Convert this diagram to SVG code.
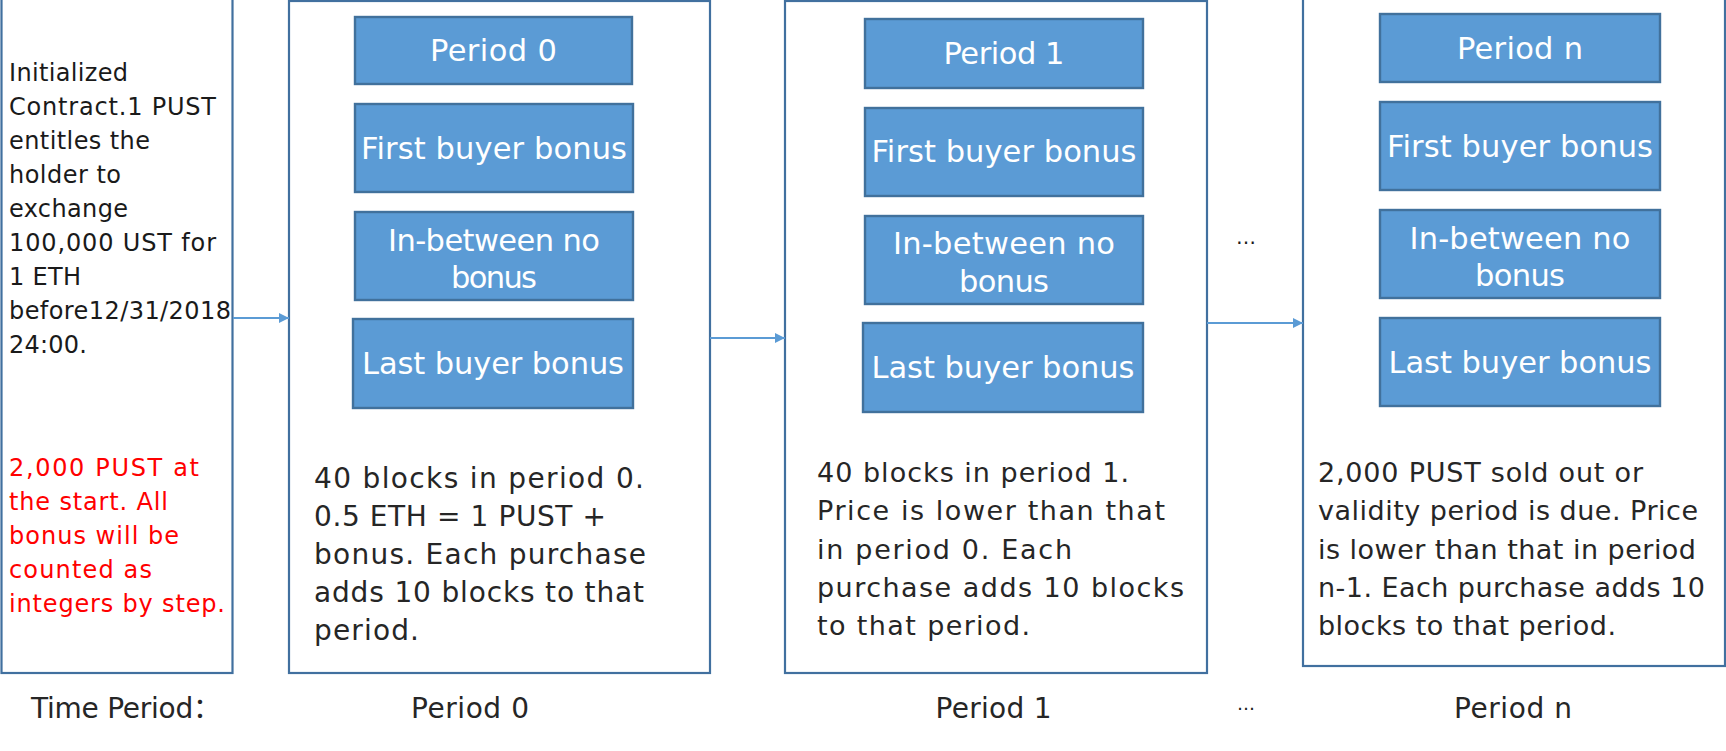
<svg xmlns="http://www.w3.org/2000/svg" width="1726" height="751" viewBox="0 0 1726 751">
<style>
.frame{fill:#ffffff;stroke:#41709F;stroke-width:2.2}
.blk{fill:#5B9BD5;stroke:#41719C;stroke-width:2.4}
.bt{font-family:"DejaVu Sans","Noto Sans",sans-serif;font-size:30.5px;fill:#ffffff;text-anchor:middle}
.lt{font-family:"DejaVu Sans","Noto Sans",sans-serif;font-size:24px;fill:#1a1a1a}
.red{fill:#ff0000}
.d0{font-family:"DejaVu Sans","Noto Sans",sans-serif;font-size:28px;fill:#262626}
.d1{font-family:"DejaVu Sans","Noto Sans",sans-serif;font-size:27px;fill:#262626}
.lab{font-family:"DejaVu Sans","Noto Sans","Noto Sans CJK SC",sans-serif;font-size:28px;fill:#262626}
.dots{font-family:"DejaVu Sans",sans-serif;fill:#1a1a1a;text-anchor:middle}
.conn{stroke:#5B9BD5;stroke-width:2;fill:none}
</style>
<defs>
<marker id="ah" markerUnits="userSpaceOnUse" markerWidth="11" markerHeight="10" refX="10" refY="5" orient="auto">
<path d="M0,0 L10,5 L0,10 z" fill="#5B9BD5"/>
</marker>
</defs>
<rect width="1726" height="751" fill="#ffffff"/>

<g id="init">
<rect class="frame" x="1.5" y="-3" width="231" height="676"/>
<text class="lt">
<tspan x="9" y="81" textLength="119">Initialized</tspan>
<tspan x="9" y="115" textLength="207">Contract.1 PUST</tspan>
<tspan x="9" y="149" textLength="141">entitles the</tspan>
<tspan x="9" y="183" textLength="112">holder to</tspan>
<tspan x="9" y="217" textLength="119">exchange</tspan>
<tspan x="9" y="251" textLength="207">100,000 UST for</tspan>
<tspan x="9" y="285" textLength="72">1 ETH</tspan>
<tspan x="9" y="319" textLength="222">before12/31/2018</tspan>
<tspan x="9" y="353" textLength="78">24:00.</tspan>
</text>
<text class="lt red">
<tspan x="9" y="476" textLength="190">2,000 PUST at</tspan>
<tspan x="9" y="510" textLength="159">the start. All</tspan>
<tspan x="9" y="544" textLength="170">bonus will be</tspan>
<tspan x="9" y="578" textLength="143">counted as</tspan>
<tspan x="9" y="612" textLength="216">integers by step.</tspan>
</text>
</g>

<g id="period0">
<rect class="frame" x="289" y="1" width="421" height="672"/>
<rect class="blk" x="355" y="17" width="277" height="67"/>
<text class="bt" x="493.5" y="61" textLength="127">Period 0</text>
<rect class="blk" x="355" y="104" width="278" height="88"/>
<text class="bt" x="494" y="158.5" textLength="266">First buyer bonus</text>
<rect class="blk" x="355" y="212" width="278" height="88"/>
<text class="bt" x="494" y="250.5" textLength="212">In-between no</text>
<text class="bt" x="494" y="288" textLength="86">bonus</text>
<rect class="blk" x="353" y="319" width="280" height="89"/>
<text class="bt" x="493" y="374" textLength="262">Last buyer bonus</text>
<text class="d0">
<tspan x="314" y="488" textLength="330">40 blocks in period 0.</tspan>
<tspan x="314" y="526" textLength="292">0.5 ETH = 1 PUST +</tspan>
<tspan x="314" y="564" textLength="332">bonus. Each purchase</tspan>
<tspan x="314" y="602" textLength="330">adds 10 blocks to that</tspan>
<tspan x="314" y="640" textLength="105">period.</tspan>
</text>
</g>

<g id="period1">
<rect class="frame" x="785" y="1" width="422" height="672"/>
<rect class="blk" x="865" y="19" width="278" height="69"/>
<text class="bt" x="1004" y="64" textLength="121">Period 1</text>
<rect class="blk" x="865" y="108" width="278" height="88"/>
<text class="bt" x="1004" y="162" textLength="265">First buyer bonus</text>
<rect class="blk" x="865" y="216" width="278" height="88"/>
<text class="bt" x="1004" y="254" textLength="222">In-between no</text>
<text class="bt" x="1004" y="292" textLength="90">bonus</text>
<rect class="blk" x="863" y="323" width="280" height="89"/>
<text class="bt" x="1003" y="378" textLength="263">Last buyer bonus</text>
<text class="d1">
<tspan x="817" y="482" textLength="312">40 blocks in period 1.</tspan>
<tspan x="817" y="520" textLength="348">Price is lower than that</tspan>
<tspan x="817" y="559" textLength="255">in period 0. Each</tspan>
<tspan x="817" y="597" textLength="367">purchase adds 10 blocks</tspan>
<tspan x="817" y="635" textLength="213">to that period.</tspan>
</text>
</g>

<g id="periodn">
<rect class="frame" x="1303" y="-3" width="422" height="669"/>
<rect class="blk" x="1380" y="14" width="280" height="68"/>
<text class="bt" x="1520" y="59" textLength="126">Period n</text>
<rect class="blk" x="1380" y="102" width="280" height="88"/>
<text class="bt" x="1520" y="156.5" textLength="266">First buyer bonus</text>
<rect class="blk" x="1380" y="210" width="280" height="88"/>
<text class="bt" x="1520" y="248.5" textLength="221">In-between no</text>
<text class="bt" x="1520" y="286" textLength="90">bonus</text>
<rect class="blk" x="1380" y="318" width="280" height="88"/>
<text class="bt" x="1520" y="372.5" textLength="263">Last buyer bonus</text>
<text class="d1">
<tspan x="1318" y="482" textLength="325">2,000 PUST sold out or</tspan>
<tspan x="1318" y="520" textLength="380">validity period is due. Price</tspan>
<tspan x="1318" y="559" textLength="378">is lower than that in period</tspan>
<tspan x="1318" y="597" textLength="387">n-1. Each purchase adds 10</tspan>
<tspan x="1318" y="635" textLength="298">blocks to that period.</tspan>
</text>
</g>

<g id="connectors">
<line class="conn" x1="233" y1="318" x2="289" y2="318" marker-end="url(#ah)"/>
<line class="conn" x1="710" y1="338" x2="785" y2="338" marker-end="url(#ah)"/>
<line class="conn" x1="1207" y1="323" x2="1303" y2="323" marker-end="url(#ah)"/>
</g>

<g id="labels">
<text class="dots" x="1246" y="244" font-size="20">…</text>
<text class="dots" x="1246" y="710" font-size="18">…</text>
<text class="lab" x="31" y="718" textLength="190">Time Period：</text>
<text class="lab" x="470" y="718" text-anchor="middle" textLength="118">Period 0</text>
<text class="lab" x="993.5" y="718" text-anchor="middle" textLength="116">Period 1</text>
<text class="lab" x="1513" y="718" text-anchor="middle" textLength="118">Period n</text>
</g>
</svg>
